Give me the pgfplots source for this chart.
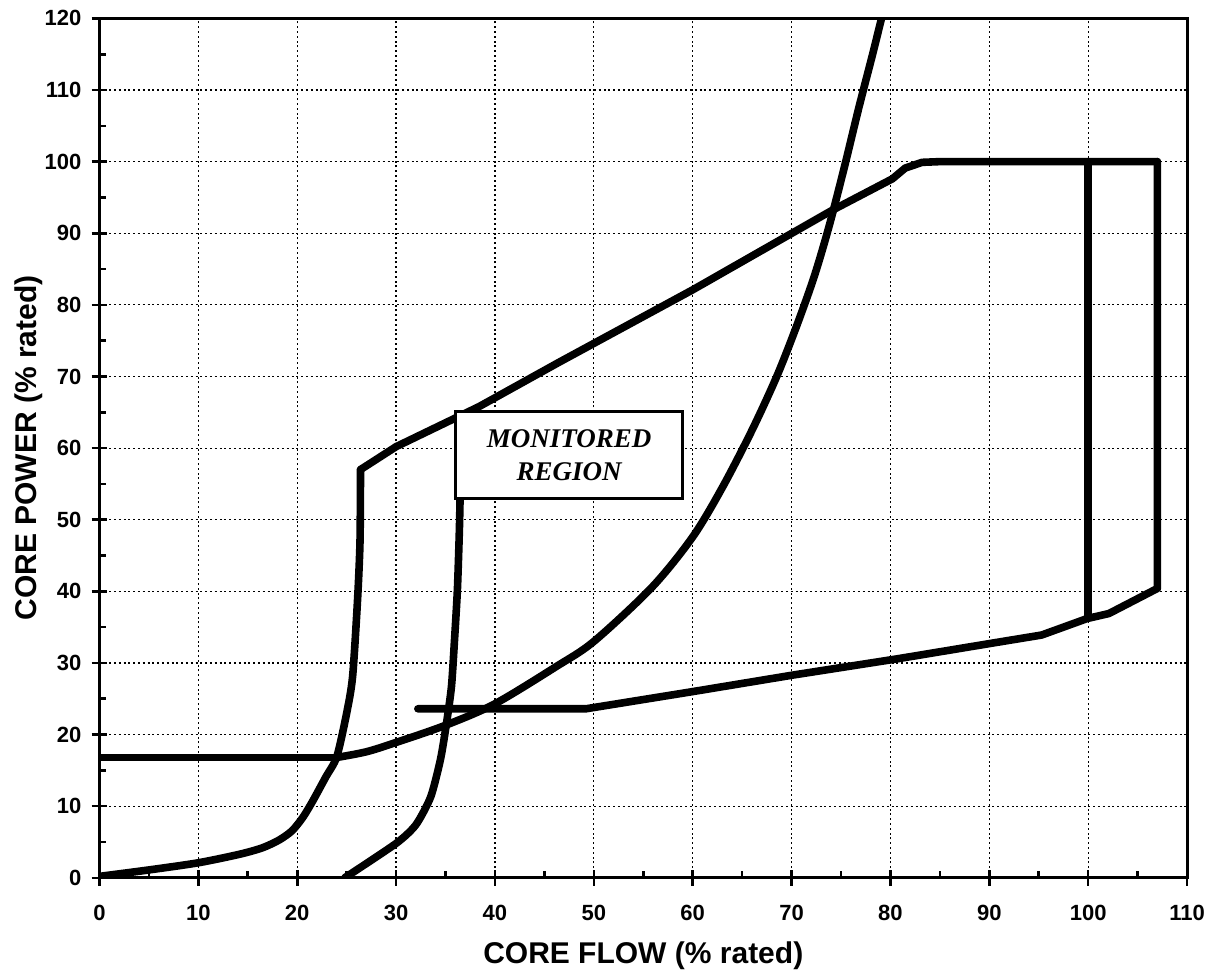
\documentclass[border=0pt]{standalone}
\usepackage{fontspec}
\setmainfont{Liberation Sans}
\newfontfamily\serifbi{Liberation Serif}
\usepackage{pgfplots}
\pgfplotsset{compat=1.18}

\pgfplotsset{
  limitline/.style={black, line width=3.8pt, line cap=round, line join=round, mark=none},
}

\begin{document}
\begin{tikzpicture}
\useasboundingbox (-49.75pt,-48.2pt) rectangle (559.25pt,438.9pt);
\begin{axis}[
  scale only axis, width=543.75pt, height=429.7pt,
  xmin=0, xmax=110, ymin=0, ymax=120,
  xtick={0,10,...,110}, ytick={0,10,...,120},
  tick pos=left, tick align=center, major tick length=8pt,
  extra x ticks={5,15,...,105}, extra y ticks={5,15,...,115},
  extra x tick labels={}, extra y tick labels={},
  extra tick style={grid=none, tick align=inside, major tick length=3.2pt},
  grid=major,
  grid style={black, line width=0.6pt, dash pattern=on 1pt off 1.4pt},
  axis line style={line width=1.5pt},
  tick style={black, line width=1.3pt},
  ticklabel style={font=\bfseries\fontsize{11}{13}\selectfont},
  /pgf/number format/assume math mode=true,
  xticklabel style={anchor=base, yshift=-17.2pt},
  yticklabel style={anchor=east, inner sep=0pt, xshift=-4.9pt},
  xlabel={CORE FLOW (\% rated)},
  ylabel={CORE POWER (\% rated)},
  every axis x label/.style={at={(axis description cs:0.5,0)}, yshift=-42.8pt, anchor=base,
    font=\bfseries\fontsize{15}{18}\selectfont},
  every axis y label/.style={at={(axis description cs:0,0.5)}, xshift=-31.4pt, rotate=90, anchor=base,
    font=\bfseries\fontsize{15}{18}\selectfont},
]

% lower flow-control curve rising into the upper boundary
\addplot[limitline, smooth, tension=0.45] coordinates {
  (0,0.2) (5,1.1) (10,2.1) (14.2,3.3) (16.5,4.2) (18.2,5.3) (19.5,6.6)
  (20.6,8.5) (21.6,10.8) (22.9,14.1) (24,16.9) (25,23) (25.6,28.1) (26.1,38.8)
  (26.35,47) (26.4,57)
};
% upper boundary and rated power line
\addplot[limitline] coordinates {
  (26.4,57) (30,60.2) (38.4,65.8) (46.5,72) (60,82.1) (74.1,93.2)
  (80.2,97.6) (81.5,99.1) (83.2,99.9) (85,100) (107,100)
};
% maximum flow edge and lower boundary
\addplot[limitline] coordinates {
  (107,100) (107,40.4) (102.1,36.9) (99.9,36.2) (97.5,35) (95.3,33.9) (90,32.7)
  (80.8,30.6) (70.1,28.3) (60,26) (49.2,23.6) (32.2,23.6)
};
% rated flow edge
\addplot[limitline] coordinates {(100,100) (100,36.3)};

% second flow-control curve
\addplot[limitline, smooth, tension=0.4] coordinates {
  (24.8,0) (30,4.8) (32,7.4) (33.5,11.3) (34.5,16.6) (35.1,21.6)
  (35.6,26.7) (35.9,33) (36.2,40.2) (36.4,48.5) (36.5,55)
};

% minimum power line and pump curve
\addplot[limitline] coordinates {(0,16.8) (24,16.8)};
\addplot[limitline, smooth, tension=0.5] coordinates {
  (24,16.8) (27,17.6) (30,18.9) (35,21.3) (40,24.3) (46.2,29.5) (50,33)
  (55.9,40.6) (60,47.6) (63,54.5) (66,62.5) (68.5,70) (70.5,77)
  (72.3,84) (73.8,91) (75.3,99) (76.8,107.5) (78.2,115) (79.1,120) (79.5,122)
};

\node[draw, line width=1.6pt, fill=white, minimum width=113.5pt, minimum height=43.5pt,
  inner sep=0pt, align=center,
  font=\serifbi\bfseries\itshape\fontsize{13.5}{16.7}\selectfont]
  at (axis cs:47.5,59) {MONITORED\\REGION};
\end{axis}
\end{tikzpicture}
\end{document}
